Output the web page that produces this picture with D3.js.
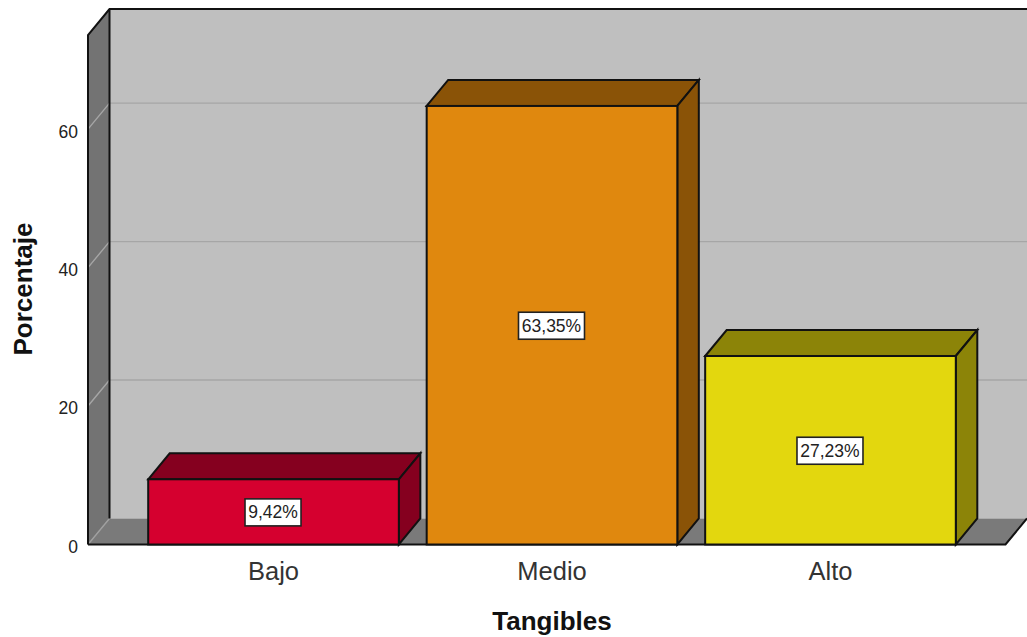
<!DOCTYPE html>
<html>
<head>
<meta charset="utf-8">
<script src="https://d3js.org/d3.v7.min.js"></script>
<style>
html, body { margin: 0; padding: 0; background: #fff; }
svg { display: block; }
text { font-family: "Liberation Sans", Arial, sans-serif; }
</style>
</head>
<body>
<svg id="chartSVG" width="1027" height="637"></svg>
<script>
var categories = ["Bajo", "Medio", "Alto"];
var percentages = [9.42, 63.35, 27.23];
var barLabels = ["9,42%", "63,35%", "27,23%"];
var frontColors = ["#d5002f", "#e0880e", "#e3d70e"];
var sideColors = ["#85001f", "#8a5307", "#8c8408"];
var yTicks = [0, 20, 40, 60];

var width = 1027;
var height = 637;

// 3D offset of the back wall
var depthX = 21.5;
var depthY = -26;

var svg = d3.select("#chartSVG");

var xScale = d3.scaleBand()
    .domain(categories)
    .range([92.5, 1011.5])
    .paddingInner(0.1)
    .paddingOuter(0.2);

var yScale = d3.scaleLinear()
    .domain([0, 73.6])
    .range([544.5, 35]);

var left = 88;
var right = 1005.5;
var y0 = yScale(0);
var yTop = yScale(73.6);

function pts(list) {
    return list.map(function(p){ return p[0] + "," + p[1]; }).join(" ");
}

// back wall
svg.append("polygon")
    .attr("points", pts([[left + depthX, yTop + depthY], [width + 5, yTop + depthY], [width + 5, y0 + depthY], [left + depthX, y0 + depthY]]))
    .attr("fill", "#bfbfbf");

// side wall
svg.append("polygon")
    .attr("points", pts([[left, yTop], [left + depthX, yTop + depthY], [left + depthX, y0 + depthY], [left, y0]]))
    .attr("fill", "#737373");

// floor
svg.append("polygon")
    .attr("points", pts([[left, y0], [left + depthX, y0 + depthY], [right + depthX, y0 + depthY], [right, y0]]))
    .attr("fill", "#7a7a7a");

// gridlines
yTicks.forEach(function(t){
    var y = yScale(t);
    var line = t === 0
        ? [[left, y], [left + depthX, y + depthY]]
        : [[left, y], [left + depthX, y + depthY], [width + 5, y + depthY]];
    svg.append("polyline")
        .attr("points", pts(line))
        .attr("fill", "none")
        .attr("stroke", t === 0 ? "#a0a0a0" : "#a6a6a6")
        .attr("stroke-width", 1.4);
});

// frame edges
svg.append("polyline")
    .attr("points", pts([[left, y0], [left, yTop], [left + depthX, yTop + depthY], [width + 5, yTop + depthY]]))
    .attr("fill", "none").attr("stroke", "#111").attr("stroke-width", 2);
svg.append("line")
    .attr("x1", left + depthX).attr("y1", yTop + depthY)
    .attr("x2", left + depthX).attr("y2", y0 + depthY)
    .attr("stroke", "#111").attr("stroke-width", 2);
svg.append("polyline")
    .attr("points", pts([[left, y0], [right, y0], [right + depthX, y0 + depthY]]))
    .attr("fill", "none").attr("stroke", "#111").attr("stroke-width", 2);

// bars
var bars = svg.selectAll(".bar")
    .data(percentages).enter()
    .append("g").attr("class", "bar");

function barX(d, i) { return xScale(categories[i]); }

bars.append("polygon")
    .attr("points", function(d, i){
        var x = barX(d, i), w = xScale.bandwidth(), y = yScale(d);
        return pts([[x, y], [x + depthX, y + depthY], [x + w + depthX, y + depthY], [x + w, y]]);
    })
    .attr("fill", function(d, i){ return sideColors[i]; })
    .attr("stroke", "#111").attr("stroke-width", 2);

bars.append("polygon")
    .attr("points", function(d, i){
        var x = barX(d, i) + xScale.bandwidth(), y = yScale(d);
        return pts([[x, y], [x + depthX, y + depthY], [x + depthX, y0 + depthY], [x, y0]]);
    })
    .attr("fill", function(d, i){ return sideColors[i]; })
    .attr("stroke", "#111").attr("stroke-width", 2);

bars.append("rect")
    .attr("x", barX)
    .attr("y", function(d){ return yScale(d); })
    .attr("width", xScale.bandwidth())
    .attr("height", function(d){ return y0 - yScale(d); })
    .attr("fill", function(d, i){ return frontColors[i]; })
    .attr("stroke", "#111").attr("stroke-width", 2);

// value labels
bars.each(function(d, i){
    var g = d3.select(this);
    var cx = barX(d, i) + xScale.bandwidth() / 2 - 0.5;
    var cy = (yScale(d) + y0) / 2 + 1;
    var boxW = i === 0 ? 56 : 66;
    g.append("rect")
        .attr("x", cx - boxW / 2).attr("y", cy - 14)
        .attr("width", boxW).attr("height", 27)
        .attr("fill", "#fff").attr("stroke", "#222").attr("stroke-width", 1.6);
    g.append("text")
        .attr("x", cx).attr("y", cy + 5.5)
        .attr("text-anchor", "middle")
        .attr("font-size", 17.5)
        .attr("fill", "#222")
        .text(barLabels[i]);
});

// axes
var yAxis = svg.append("g")
    .attr("class", "yScale")
    .attr("transform", "translate(" + left + ",0)")
    .call(d3.axisLeft(yScale).tickValues(yTicks).tickSize(0).tickPadding(10));
yAxis.select(".domain").remove();
yAxis.selectAll("text")
    .style("font-size", "17.5px")
    .attr("fill", "#222")
    .attr("dy", "0.45em");

var xAxis = svg.append("g")
    .attr("class", "xScale")
    .attr("transform", "translate(0," + y0 + ")")
    .call(d3.axisBottom(xScale).tickSize(0).tickPadding(17));
xAxis.select(".domain").remove();
xAxis.selectAll("text")
    .style("font-size", "25.5px")
    .attr("fill", "#333");

// axis titles
svg.append("text")
    .attr("x", 552).attr("y", 630)
    .attr("text-anchor", "middle")
    .attr("font-size", 26)
    .attr("font-weight", "bold")
    .attr("fill", "#111")
    .text("Tangibles");

svg.append("text")
    .attr("transform", "translate(32,289) rotate(-90)")
    .attr("text-anchor", "middle")
    .attr("font-size", 26)
    .attr("font-weight", "bold")
    .attr("fill", "#111")
    .text("Porcentaje");
</script>
</body>
</html>
